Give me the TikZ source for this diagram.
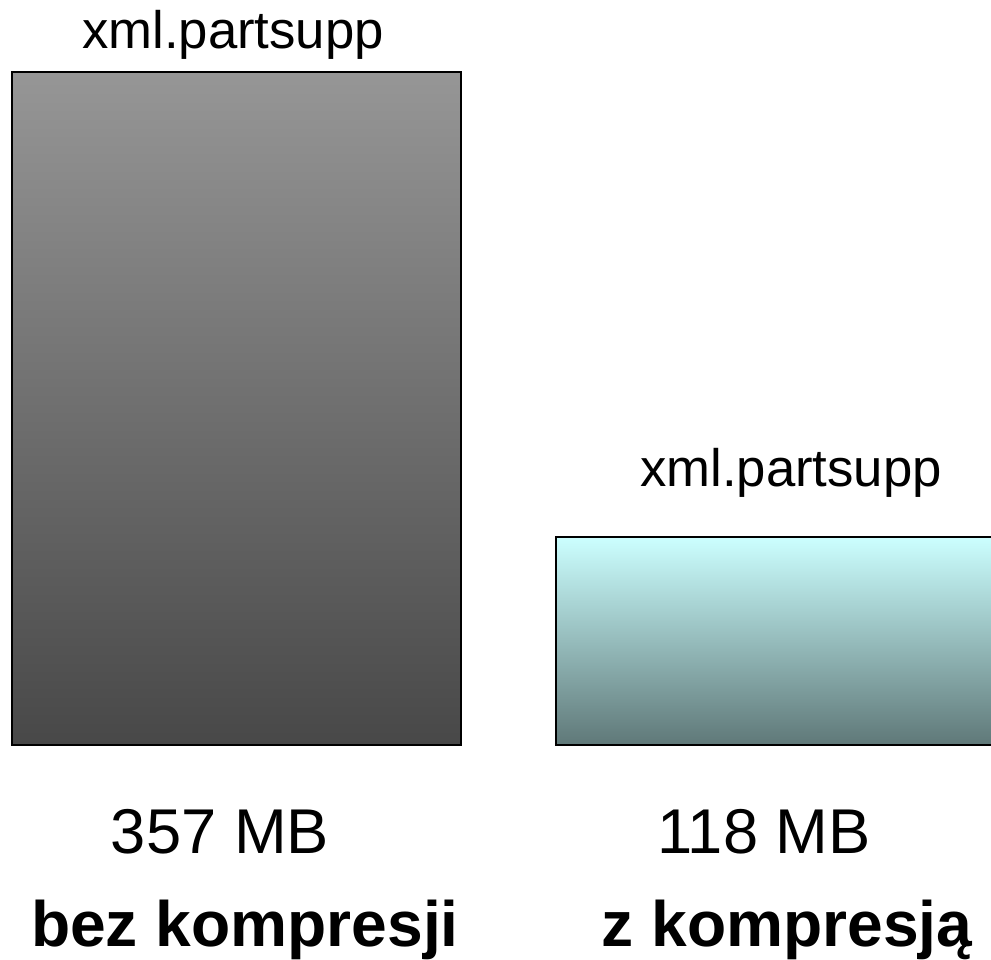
\documentclass[tikz,border=0pt]{standalone}
\usepackage{fontspec}
\setmainfont{Liberation Sans}
\usepackage{tikz}

\definecolor{grayTop}{HTML}{969696}
\definecolor{grayBot}{HTML}{484848}
\definecolor{cyanTop}{HTML}{CCFFFF}
\definecolor{cyanBot}{HTML}{5F7878}

\begin{document}
\begin{tikzpicture}
        \tikzstyle{every node} = [inner sep=0pt]
        \tikzstyle{bar} = [draw=black, line width=1.1pt, shading=axis, shading angle=0]
        \tikzstyle{filelabel} = [anchor=base, font=\fontsize{30}{36}\selectfont]
        \tikzstyle{sizelabel} = [anchor=base, font=\fontsize{36}{43}\selectfont]
        \tikzstyle{kindlabel} = [anchor=base, font=\fontsize{36.5}{44}\selectfont\bfseries]
        \useasboundingbox (0,0) rectangle (19.82,19.2);

        \node[bar, top color=grayTop, bottom color=grayBot, anchor=south west,
              minimum width=8.98cm, minimum height=13.46cm] (raw) at (0.22,4.28) {};
        \node[bar, top color=cyanTop, bottom color=cyanBot, anchor=south west,
              minimum width=9.0cm, minimum height=4.16cm] (zip) at (11.1,4.28) {};

        \node[filelabel] (rawfile) at (4.66,18.22) {xml.partsupp};
        \node[filelabel] (zipfile) at (15.82,9.46) {xml.partsupp};

        \node[sizelabel] (rawsize) at (4.40,2.12) {357 MB};
        \node[sizelabel] (zipsize) at (15.28,2.12) {118 MB};

        \node[kindlabel] (rawkind) at (4.90,0.27) {bez kompresji};
        \node[kindlabel] (zipkind) at (15.74,0.27) {z kompresją};
      \end{tikzpicture}
\end{document}
